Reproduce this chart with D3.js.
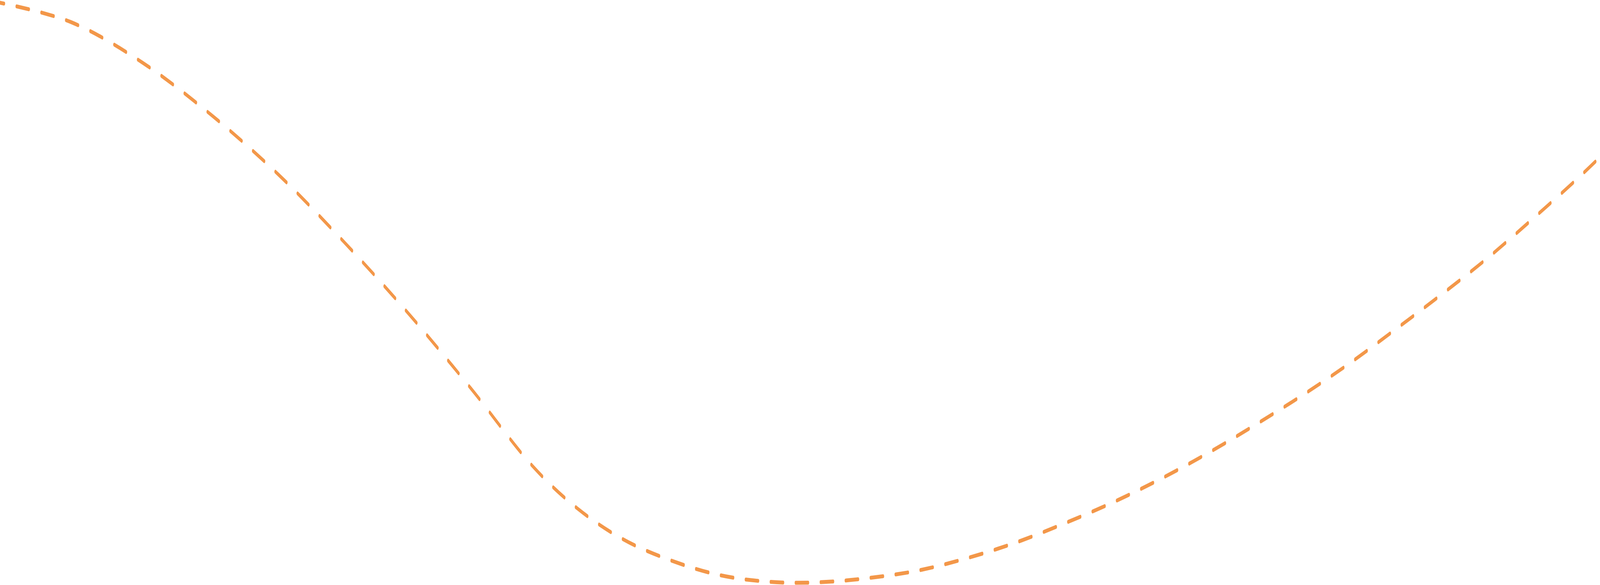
<!DOCTYPE html>
<html>
<head>
<meta charset="utf-8">
<script src="https://cdn.jsdelivr.net/npm/d3@7"></script>
<style>
	html, body { margin: 0; padding: 0; background: #fff; overflow: hidden; }
	svg { display: block; }
</style>
</head>
<body>
<svg id="curve_svg"></svg>
<script>

// points, left to right (picture is 7680 x 1497)
var xs = [0, 343, 683, 1014, 1337, 1651, 1957, 2259, 2557, 2769, 2991, 3220, 3457, 3700, 3932, 4171,
	4407, 4644, 4878, 5111, 5344, 5573, 5803, 6029, 6256, 6480, 6703, 6923, 7141, 7355, 7570, 7680]
var ys = [7, 57, 160, 294, 447, 619, 800, 993, 1193, 1300, 1380, 1434, 1472, 1489, 1490, 1479,
	1460, 1428, 1388, 1339, 1285, 1225, 1158, 1086, 1010, 929, 841, 752, 660, 561, 458, 402]

function drawcurve() {

	var w = 7680;
	var h = 1497;

	// the window may be narrower than the picture, so the drawing is fitted to it
	var svg = d3.select('#curve_svg')
		.attr('width', window.innerWidth || w)
		.attr('height', window.innerHeight || h)
		.attr('viewBox', '0 0 ' + w + ' ' + h)
		.attr('preserveAspectRatio', 'none')

	var x = d3.scaleLinear().domain([0, 7680]).range([0, w])
	var y = d3.scaleLinear().domain([0, 1497]).range([0, h])

	var pts = xs.map((d, i) => [d, ys[i]])

	var line = d3.line()
		.x(d => x(d[0]))
		.y(d => y(d[1]))
		.curve(d3.curveCatmullRom)

	svg.append('path')
		.datum(pts)
		.attr('d', line)
		.attr('fill', 'none')
		.attr('stroke', '#f39749')
		.attr('stroke-width', 10)
		.attr('stroke-linecap', 'round')
		.attr('stroke-dasharray', '60 60')
		.attr('stroke-dashoffset', 40)
}

drawcurve();
</script>
</body>
</html>
